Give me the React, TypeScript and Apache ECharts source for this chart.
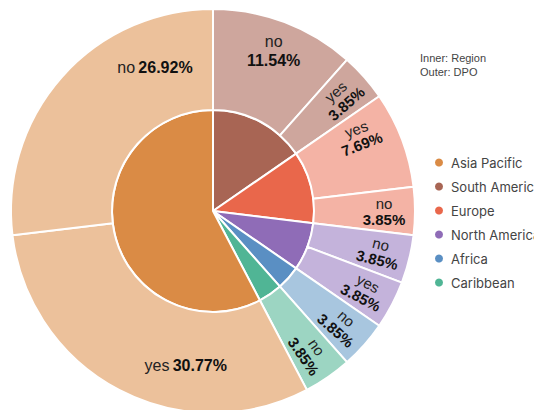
import React, { useEffect, useRef } from 'react';
import * as echarts from 'echarts';

// ---- data ----
const regions = ['South America', 'Europe', 'North America', 'Africa', 'Caribbean', 'Asia Pacific'];
const regionCounts = [4, 3, 2, 1, 1, 15];
const legendOrder = ['Asia Pacific', 'South America', 'Europe', 'North America', 'Africa', 'Caribbean'];
const dpoRegion = ['South America', 'South America', 'Europe', 'Europe', 'North America', 'North America', 'Africa', 'Caribbean', 'Asia Pacific', 'Asia Pacific'];
const dpoAnswer = ['no', 'yes', 'yes', 'no', 'no', 'yes', 'no', 'no', 'yes', 'no'];
const dpoCounts = [3, 1, 2, 1, 1, 1, 1, 1, 8, 7];

// ---- styles ----
const innerColors: Record<string, string> = {
  'Asia Pacific': '#DA8B45',
  'South America': '#A86554',
  'Europe': '#E9674B',
  'North America': '#8F6CB7',
  'Africa': '#5A8FC3',
  'Caribbean': '#50B595',
};
const outerColors: Record<string, string> = {
  'Asia Pacific': '#ECC19B',
  'South America': '#CEA69D',
  'Europe': '#F4B3A5',
  'North America': '#C4B3DB',
  'Africa': '#A8C6DF',
  'Caribbean': '#9CD5C2',
};

const CX = 213;
const CY = 211;
const R0 = 101;
const R1 = 202;
const LABEL_R = 171;
// label placement overrides: [angle deg, radius]
const labelOverride: Record<number, [number, number]> = { 2: [63, 164], 8: [190, 157], 9: [338, 155] };

export default function App() {
  const ref = useRef<HTMLDivElement>(null);
  useEffect(() => {
    if (!ref.current) return;
    const chart = echarts.init(ref.current, null, { renderer: 'svg' });
    const total = dpoCounts.reduce((a, b) => a + b, 0);
    const mids: number[] = [];
    let acc = 0;
    dpoCounts.forEach((c) => {
      mids.push(((acc + c / 2) / total) * 360);
      acc += c;
    });

    const outerData = dpoCounts.map((c, i) => {
      const big = c >= 5;
      const mid = c >= 3;
      const fs = mid ? 16 : 15;
      const lh = mid ? 19 : 16;
      return {
        name: dpoAnswer[i],
        value: c,
        itemStyle: { color: outerColors[dpoRegion[i]] },
        label: {
          rotate: mid ? 0 : 'radial',
          formatter: () => {
            const pct = ((c / total) * 100).toFixed(2) + '%';
            return big ? `{n|${dpoAnswer[i]}} {p|${pct}}` : `{n|${dpoAnswer[i]}}\n{p|${pct}}`;
          },
          rich: {
            n: { fontSize: fs, color: '#222', fontFamily: 'Liberation Sans', lineHeight: lh },
            p: { fontSize: fs, color: '#111', fontWeight: 'bold', fontFamily: 'Liberation Sans', lineHeight: lh },
          },
        },
      };
    });

    chart.setOption({
      animation: false,
      legend: {
        orient: 'vertical',
        left: 428,
        top: 151,
        icon: 'circle',
        itemWidth: 14,
        itemHeight: 10,
        itemGap: 11,
        data: legendOrder,
        textStyle: { fontSize: 13, color: '#444', fontFamily: 'Inter' },
        selectedMode: false,
      },
      graphic: [
        {
          type: 'text',
          left: 420,
          top: 51,
          style: {
            text: 'Inner: Region\nOuter: DPO',
            fontSize: 11,
            lineHeight: 14,
            fill: '#444',
            fontFamily: 'Liberation Sans',
          },
        },
      ],
      series: [
        {
          type: 'pie',
          center: [CX, CY],
          radius: [0, R0],
          startAngle: 90,
          clockwise: true,
          label: { show: false },
          labelLine: { show: false },
          emphasis: { disabled: true },
          itemStyle: { borderColor: '#fff', borderWidth: 2 },
          data: regions.map((r, i) => ({ name: r, value: regionCounts[i], itemStyle: { color: innerColors[r] } })),
        },
        {
          type: 'pie',
          center: [CX, CY],
          radius: [R0, R1],
          startAngle: 90,
          clockwise: true,
          emphasis: { disabled: true },
          itemStyle: { borderColor: '#fff', borderWidth: 2 },
          labelLine: { show: false },
          label: { show: true, position: 'inside' },
          labelLayout: (params: any) => {
            const i = params.dataIndex;
            let ang = mids[i];
            let rad = LABEL_R;
            if (labelOverride[i]) {
              ang = labelOverride[i][0];
              rad = labelOverride[i][1];
            }
            const a = (ang * Math.PI) / 180;
            return {
              x: CX + rad * Math.sin(a),
              y: CY - rad * Math.cos(a),
              align: 'center',
              verticalAlign: 'middle',
            };
          },
          data: outerData,
        },
      ],
    });
    return () => chart.dispose();
  }, []);
  return <div ref={ref} style={{ position: 'absolute', left: 0, top: 0, width: 534, height: 410 }} />;
}
